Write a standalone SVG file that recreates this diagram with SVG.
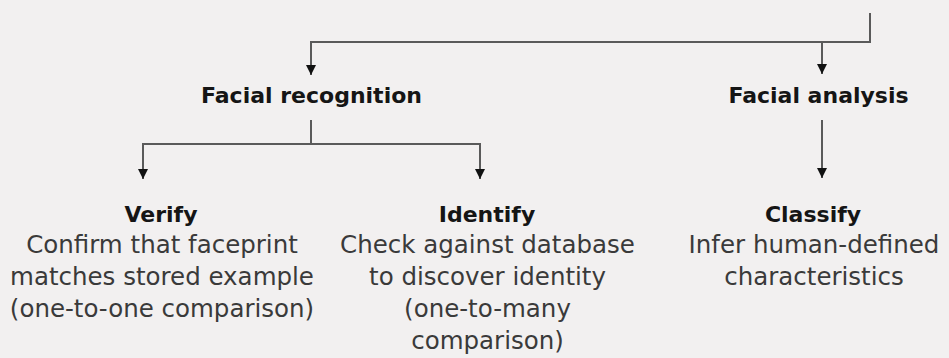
<svg xmlns="http://www.w3.org/2000/svg" width="949" height="358" viewBox="0 0 949 358">
  <style>
    .head { font-family: "DejaVu Sans", sans-serif; font-weight: bold; font-size: 22px; fill: #151515; text-anchor: middle; }
    .body { font-family: "DejaVu Sans", sans-serif; font-size: 24.5px; fill: #3a3a3a; text-anchor: middle; }
    .conn { fill: none; stroke: #5a5a5a; stroke-width: 2; }
  </style>
  <defs>
    <marker id="arrow" viewBox="0 0 10 10" refX="10" refY="5" markerWidth="5" markerHeight="5" orient="auto" markerUnits="strokeWidth">
      <path d="M0,0 L10,5 L0,10 z" fill="#111"/>
    </marker>
  </defs>
  <rect width="949" height="358" fill="#f2f0f0"/>

  <g id="connectors">
    <path class="conn" d="M870,13 V42 H311 V75" marker-end="url(#arrow)"/>
    <path class="conn" d="M822,42 V74" marker-end="url(#arrow)"/>
    <path class="conn" d="M311,120 V144"/>
    <path class="conn" d="M143,179 V144 H480 V179" marker-end="url(#arrow)"/>
    <path class="conn" d="M143,144 V179" marker-end="url(#arrow)"/>
    <path class="conn" d="M822,120 V178" marker-end="url(#arrow)"/>
  </g>

  <g id="facial-recognition">
    <text class="head" x="311.5" y="103">Facial recognition</text>
  </g>
  <g id="facial-analysis">
    <text class="head" x="818.5" y="103">Facial analysis</text>
  </g>
  <g id="verify">
    <text class="head" x="161" y="222">Verify</text>
    <text class="body" x="162" y="253">Confirm that faceprint</text>
    <text class="body" x="162" y="285">matches stored example</text>
    <text class="body" x="162" y="317">(one-to-one comparison)</text>
  </g>
  <g id="identify">
    <text class="head" x="487" y="222">Identify</text>
    <text class="body" x="487.5" y="253">Check against database</text>
    <text class="body" x="487.5" y="285">to discover identity</text>
    <text class="body" x="487.5" y="317">(one-to-many</text>
    <text class="body" x="487.5" y="349">comparison)</text>
  </g>
  <g id="classify">
    <text class="head" x="813" y="222">Classify</text>
    <text class="body" x="814" y="253">Infer human-defined</text>
    <text class="body" x="814" y="285">characteristics</text>
  </g>
</svg>
